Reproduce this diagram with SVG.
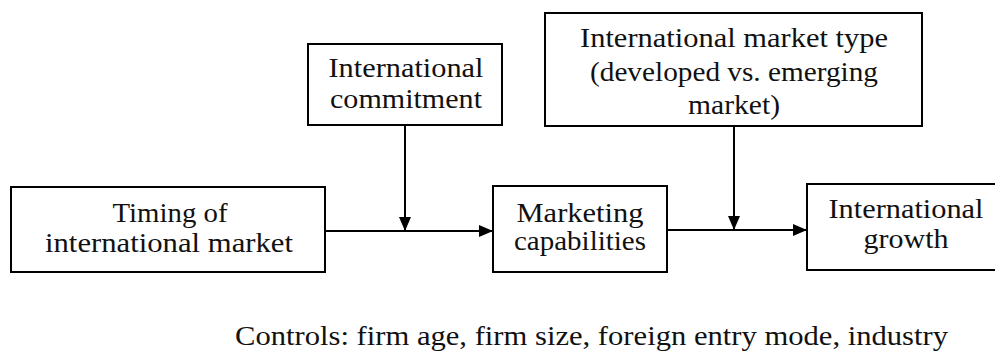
<svg xmlns="http://www.w3.org/2000/svg" width="995" height="351" viewBox="0 0 995 351">
  <style>
    .box { fill: #ffffff; stroke: #000000; stroke-width: 2; }
    .lbl { font-size: 28px; fill: #111111; text-anchor: middle; }
    .note { font-size: 28px; fill: #111111; }
    .link { stroke: #000000; stroke-width: 2; fill: none; }
  </style>
  <defs>
    <marker id="arrow" viewBox="0 0 14 12" refX="14" refY="6" markerWidth="14" markerHeight="12" markerUnits="userSpaceOnUse" orient="auto">
      <path d="M0,0 L14,6 L0,12 Z" fill="#000000"/>
    </marker>
  </defs>
  <rect width="995" height="351" fill="#ffffff"/>

  <g id="connectors">
    <line class="link" x1="325" y1="231" x2="493" y2="231" marker-end="url(#arrow)"/>
    <line class="link" x1="405" y1="125" x2="405" y2="231" marker-end="url(#arrow)"/>
    <line class="link" x1="667" y1="230" x2="807" y2="230" marker-end="url(#arrow)"/>
    <line class="link" x1="734" y1="126" x2="734" y2="230" marker-end="url(#arrow)"/>
  </g>

  <g font-family="Liberation Serif, DejaVu Serif, serif">
    <g id="timing">
      <rect class="box" x="11" y="187" width="314" height="85"/>
      <text class="lbl" x="170" y="222" textLength="115" lengthAdjust="spacingAndGlyphs">Timing of</text>
      <text class="lbl" x="169" y="252" textLength="248" lengthAdjust="spacingAndGlyphs">international market</text>
    </g>

    <g id="commitment">
      <rect class="box" x="308" y="44" width="194" height="81"/>
      <text class="lbl" x="406" y="77" textLength="155" lengthAdjust="spacingAndGlyphs">International</text>
      <text class="lbl" x="406" y="108" textLength="152" lengthAdjust="spacingAndGlyphs">commitment</text>
    </g>

    <g id="marketing">
      <rect class="box" x="493" y="186" width="174" height="86"/>
      <text class="lbl" x="580" y="222" textLength="127" lengthAdjust="spacingAndGlyphs">Marketing</text>
      <text class="lbl" x="580" y="250" textLength="132" lengthAdjust="spacingAndGlyphs">capabilities</text>
    </g>

    <g id="market-type">
      <rect class="box" x="545" y="13" width="377" height="113"/>
      <text class="lbl" x="734" y="47" textLength="308" lengthAdjust="spacingAndGlyphs">International market type</text>
      <text class="lbl" x="734" y="81" textLength="288" lengthAdjust="spacingAndGlyphs">(developed vs. emerging</text>
      <text class="lbl" x="734" y="114" textLength="92" lengthAdjust="spacingAndGlyphs">market)</text>
    </g>

    <g id="growth">
      <rect class="box" x="807" y="184" width="200" height="86"/>
      <text class="lbl" x="906" y="218" textLength="155" lengthAdjust="spacingAndGlyphs">International</text>
      <text class="lbl" x="906" y="248" textLength="85" lengthAdjust="spacingAndGlyphs">growth</text>
    </g>

    <text class="note" x="235" y="345" textLength="713" lengthAdjust="spacingAndGlyphs">Controls: firm age, firm size, foreign entry mode, industry</text>
  </g>
</svg>
